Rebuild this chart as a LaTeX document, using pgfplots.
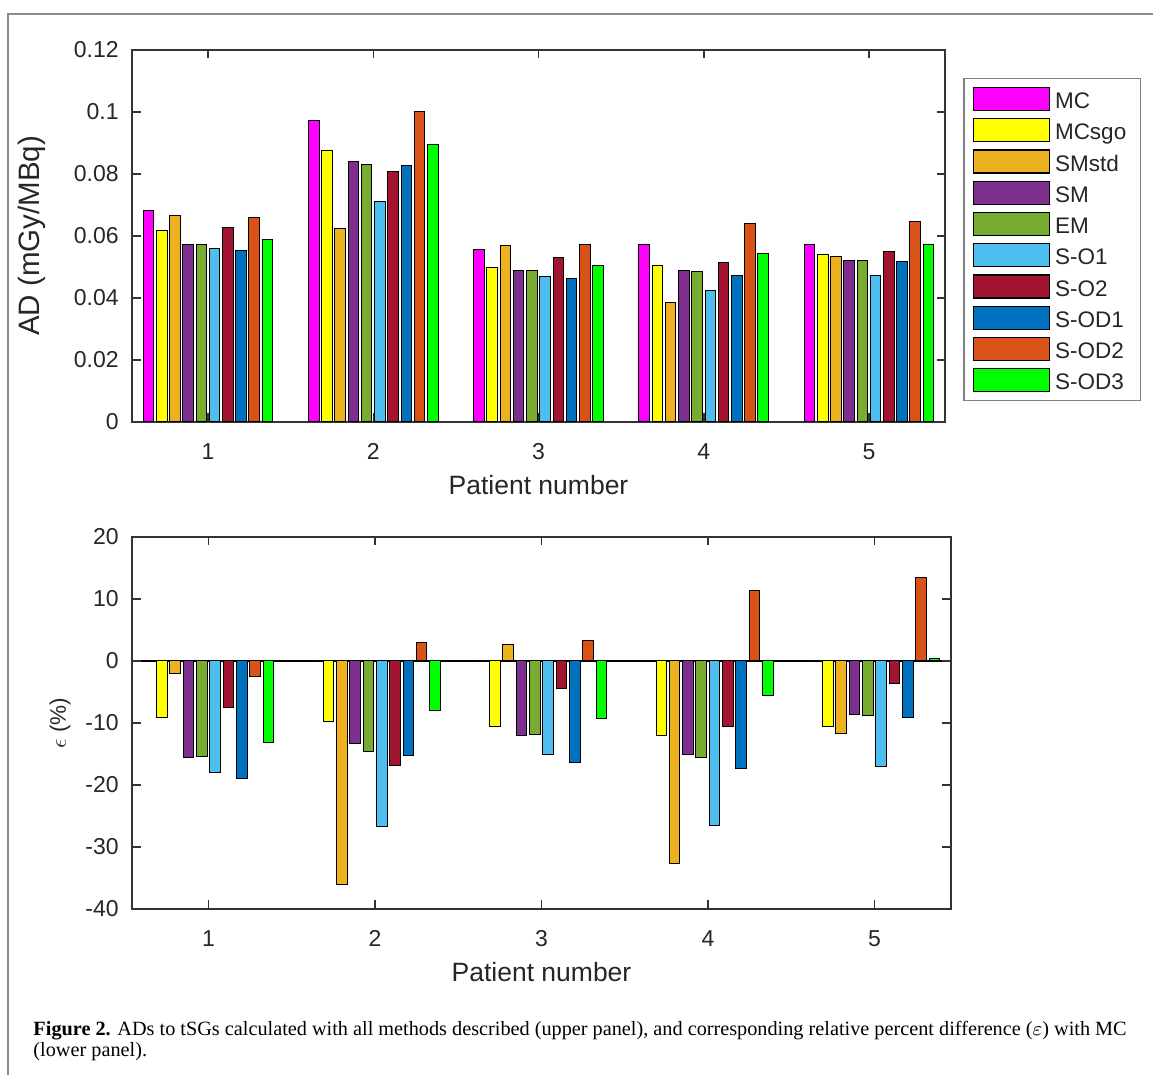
\documentclass[border=0pt]{standalone}
\usepackage{fontspec}
\setmainfont{Liberation Sans}
\newfontfamily\capfont{Liberation Serif}
\usepackage{pgfplots}
\usepackage{pgfplotstable}
\pgfplotsset{compat=1.18}

\definecolor{cMC}{HTML}{FF00FF}
\definecolor{cMCsgo}{HTML}{FFFF00}
\definecolor{cSMstd}{HTML}{EDB120}
\definecolor{cSM}{HTML}{7E2F8E}
\definecolor{cEM}{HTML}{77AC30}
\definecolor{cSOa}{HTML}{4DBEEE}
\definecolor{cSOb}{HTML}{A2142F}
\definecolor{cSODa}{HTML}{0072BD}
\definecolor{cSODb}{HTML}{D95319}
\definecolor{cSODc}{HTML}{00FF00}

% absorbed doses (mGy/MBq)
\pgfplotstableread{
pat MC     MCsgo  SMstd  SM     EM     SO1    SO2    SOD1   SOD2   SOD3
1   0.0681 0.0618 0.0666 0.0574 0.0574 0.0560 0.0628 0.0553 0.0661 0.0589
2   0.0973 0.0876 0.0623 0.0841 0.0829 0.0711 0.0809 0.0826 0.1001 0.0896
3   0.0555 0.0497 0.0569 0.0489 0.0489 0.0469 0.0530 0.0463 0.0573 0.0504
4   0.0574 0.0505 0.0387 0.0488 0.0484 0.0424 0.0513 0.0473 0.0641 0.0542
5   0.0571 0.0541 0.0534 0.0520 0.0520 0.0473 0.0549 0.0517 0.0646 0.0571
}\ADtable

% relative difference to MC (%)
\pgfplotstableread{
pat MC MCsgo  SMstd  SM     EM     SO1    SO2    SOD1   SOD2  SOD3
1   0  -9.09  -2.04  -15.6  -15.4  -17.96 -7.53  -18.9  -2.53 -13.1
2   0  -9.78  -36.1  -13.3  -14.6  -26.7  -16.8  -15.3  3.01  -8.06
3   0  -10.5  2.63   -11.99 -11.8  -15.1  -4.46  -16.4  3.23  -9.25
4   0  -12.0  -32.6  -15.1  -15.6  -26.6  -10.5  -17.4  11.3  -5.6
5   0  -10.6  -11.7  -8.6   -8.8   -17.0  -3.66  -9.14  13.5  0.43
}\Etable

\newcommand{\allbars}[1]{%
  \addplot[fill=cMC,   bar shift=-0.36] table[x=pat,y=MC]{#1};
  \addplot[fill=cMCsgo,bar shift=-0.28] table[x=pat,y=MCsgo]{#1};
  \addplot[fill=cSMstd,bar shift=-0.20] table[x=pat,y=SMstd]{#1};
  \addplot[fill=cSM,   bar shift=-0.12] table[x=pat,y=SM]{#1};
  \addplot[fill=cEM,   bar shift=-0.04] table[x=pat,y=EM]{#1};
  \addplot[fill=cSOa,  bar shift=0.04]  table[x=pat,y=SO1]{#1};
  \addplot[fill=cSOb,  bar shift=0.12]  table[x=pat,y=SO2]{#1};
  \addplot[fill=cSODa, bar shift=0.20]  table[x=pat,y=SOD1]{#1};
  \addplot[fill=cSODb, bar shift=0.28]  table[x=pat,y=SOD2]{#1};
  \addplot[fill=cSODc, bar shift=0.36]  table[x=pat,y=SOD3]{#1};
}

\pgfplotsset{
  panel/.style={
    scale only axis,
    anchor=north west,
    height=148.8pt,
    ybar,
    bar width=0.064,
    xmin=0.54, xmax=5.46,
    xtick={1,2,3,4,5},
    xticklabels={1,2,3,4,5},
    tick align=inside,
    major tick length=3.4pt,
    axis line style={black!80, line width=0.6pt},
    tick style={black!80, line width=0.6pt},
    every plot/.append style={draw=black, line width=0.45pt},
    /pgf/number format/assume math mode=true,
    ticklabel style={font=\fontsize{9.2}{10}\selectfont, text=black!85},
    xticklabel style={yshift=-5pt},
    yticklabel style={xshift=-1.8pt},
    every axis x label/.style={at={(rel axis cs:0.5,0)}, anchor=base, yshift=-29.2pt,
      font=\fontsize{10.6}{12}\selectfont, text=black!85},
    every axis y label/.style={at={(rel axis cs:0,0.5)}, rotate=90, anchor=center,
      text=black!85},
    xlabel={Patient number},
  }
}

\begin{document}
\begin{tikzpicture}
\path[use as bounding box] (0,0) rectangle (461.2pt,-430pt);
\draw[black!45, line width=0.6pt] (3.2pt,-430pt) -- (3.2pt,-5.6pt) -- (461.2pt,-5.6pt);

\begin{axis}[panel,
  at={(52.8pt,-20pt)},
  width=325.2pt,
  ymin=0, ymax=0.12,
  ytick={0,0.02,0.04,0.06,0.08,0.1,0.12},
  yticklabels={0,0.02,0.04,0.06,0.08,0.1,0.12},
  ylabel={AD (mGy/MBq)},
  ylabel style={yshift=40pt, font=\fontsize{11.8}{13}\selectfont},
  legend cell align=left,
  legend image code/.code={\draw[#1, draw=black, line width=0.5pt] (0pt,-4.6pt) rectangle (30.4pt,4.6pt);},
  legend style={at={(1,1)}, anchor=north west, xshift=7.2pt, yshift=-11.2pt,
    draw=black!50, line width=0.6pt, inner xsep=3.6pt, inner ysep=1.85pt,
    column sep=0pt, row sep=0pt, font=\fontsize{9}{10}\selectfont,
    nodes={inner xsep=2pt, inner ysep=0pt, text height=10.15pt, text depth=2.35pt, text=black!85}},
]
\allbars{\ADtable}
\legend{MC,MCsgo,SMstd,SM,EM,S-O1,S-O2,S-OD1,S-OD2,S-OD3}
\end{axis}

\begin{axis}[panel,
  at={(52.8pt,-214.8pt)},
  width=327.6pt,
  ymin=-40, ymax=20,
  ytick={-40,-30,-20,-10,0,10,20},
  yticklabels={-40,-30,-20,-10,0,10,20},
  extra y ticks={0},
  extra y tick labels={},
  extra y tick style={grid=major, major grid style={black, line width=0.8pt}},
  ylabel={$\epsilon$ (\%)},
  ylabel style={yshift=28.8pt, font=\fontsize{9}{10}\selectfont},
]
\allbars{\Etable}
\end{axis}

\node[anchor=base west, inner sep=0pt, align=left,
  font=\capfont\fontsize{8.1}{8.6}\selectfont] at (13.2pt,-422.8pt)
  {\textbf{Figure 2.} ADs to tSGs calculated with all methods described (upper panel), and corresponding relative percent difference ($\varepsilon$) with MC\\(lower panel).};
\end{tikzpicture}
\end{document}
